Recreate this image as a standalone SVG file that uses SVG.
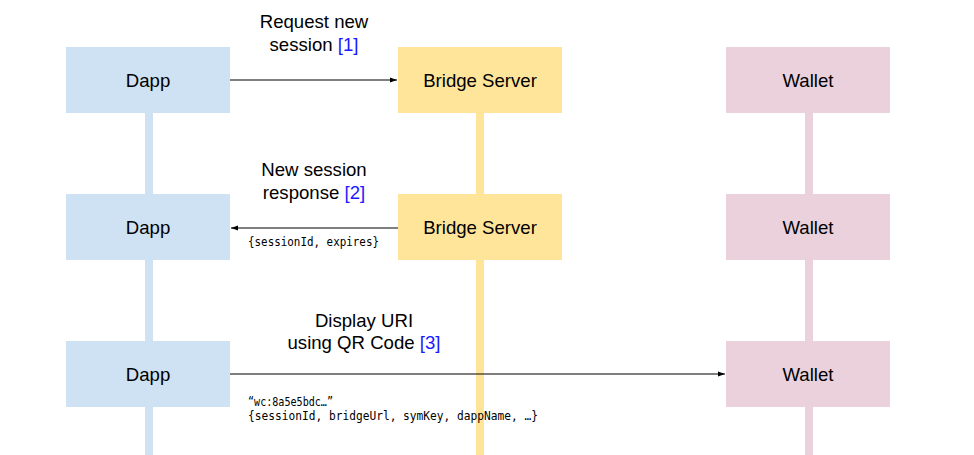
<svg xmlns="http://www.w3.org/2000/svg" width="974" height="455" viewBox="0 0 974 455">
<style>
.lbl{font-family:"Liberation Sans",Arial,sans-serif;font-size:18.6px;fill:#000;text-anchor:middle}
.ref{fill:#1a1aff}
.mono{font-family:"DejaVu Sans Mono","Liberation Mono",monospace;font-size:11.5px;fill:#000}
.dapp{fill:#cfe2f3}.bridge{fill:#ffe599}.wallet{fill:#ead1dc}
.conn{stroke:#000;stroke-width:1.2;fill:none}
</style>
<defs>
<marker id="arr" markerWidth="8" markerHeight="6" refX="7" refY="3" orient="auto" markerUnits="userSpaceOnUse">
<path d="M0,0.5 L7,3 L0,5.5 z" fill="#000"/>
</marker>
</defs>
<rect width="974" height="455" fill="#fff"/>
<g id="lifelines">
<rect class="dapp" x="145" y="47" width="8" height="408"/>
<rect class="bridge" x="476" y="47" width="8" height="408"/>
<rect class="wallet" x="805" y="47" width="8" height="408"/>
</g>
<g id="dapp1"><rect class="dapp" x="66" y="47" width="164" height="66"/><text class="lbl" x="148" y="87">Dapp</text></g>
<g id="bridge1"><rect class="bridge" x="398" y="47" width="164" height="66"/><text class="lbl" x="480" y="87">Bridge Server</text></g>
<g id="wallet1"><rect class="wallet" x="726" y="47" width="164" height="66"/><text class="lbl" x="808" y="87">Wallet</text></g>
<g id="dapp2"><rect class="dapp" x="66" y="194" width="164" height="66"/><text class="lbl" x="148" y="234">Dapp</text></g>
<g id="bridge2"><rect class="bridge" x="398" y="194" width="164" height="66"/><text class="lbl" x="480" y="234">Bridge Server</text></g>
<g id="wallet2"><rect class="wallet" x="726" y="194" width="164" height="66"/><text class="lbl" x="808" y="234">Wallet</text></g>
<g id="dapp3"><rect class="dapp" x="66" y="341" width="164" height="66"/><text class="lbl" x="148" y="381">Dapp</text></g>
<g id="wallet3"><rect class="wallet" x="726" y="341" width="164" height="66"/><text class="lbl" x="808" y="381">Wallet</text></g>
<g id="connectors">
<line class="conn" x1="230" y1="80" x2="397" y2="80" marker-end="url(#arr)"/>
<line class="conn" x1="398" y1="228" x2="231" y2="228" marker-end="url(#arr)"/>
<line class="conn" x1="230" y1="374" x2="725" y2="374" marker-end="url(#arr)"/>
<text class="lbl" x="314" y="28">Request new</text>
<text class="lbl" x="314" y="51">session <tspan class="ref">[1]</tspan></text>
<text class="lbl" x="314" y="176">New session</text>
<text class="lbl" x="314" y="199">response <tspan class="ref">[2]</tspan></text>
<text class="mono" x="248" y="246" textLength="131" lengthAdjust="spacingAndGlyphs">{sessionId, expires}</text>
<text class="lbl" x="364" y="327">Display URI</text>
<text class="lbl" x="364" y="349">using QR Code <tspan class="ref">[3]</tspan></text>
<text class="mono" x="248" y="406" textLength="85" lengthAdjust="spacingAndGlyphs">“wc:8a5e5bdc…”</text>
<text class="mono" x="248" y="420" textLength="290" lengthAdjust="spacingAndGlyphs">{sessionId, bridgeUrl, symKey, dappName, …}</text>
</g>
</svg>
